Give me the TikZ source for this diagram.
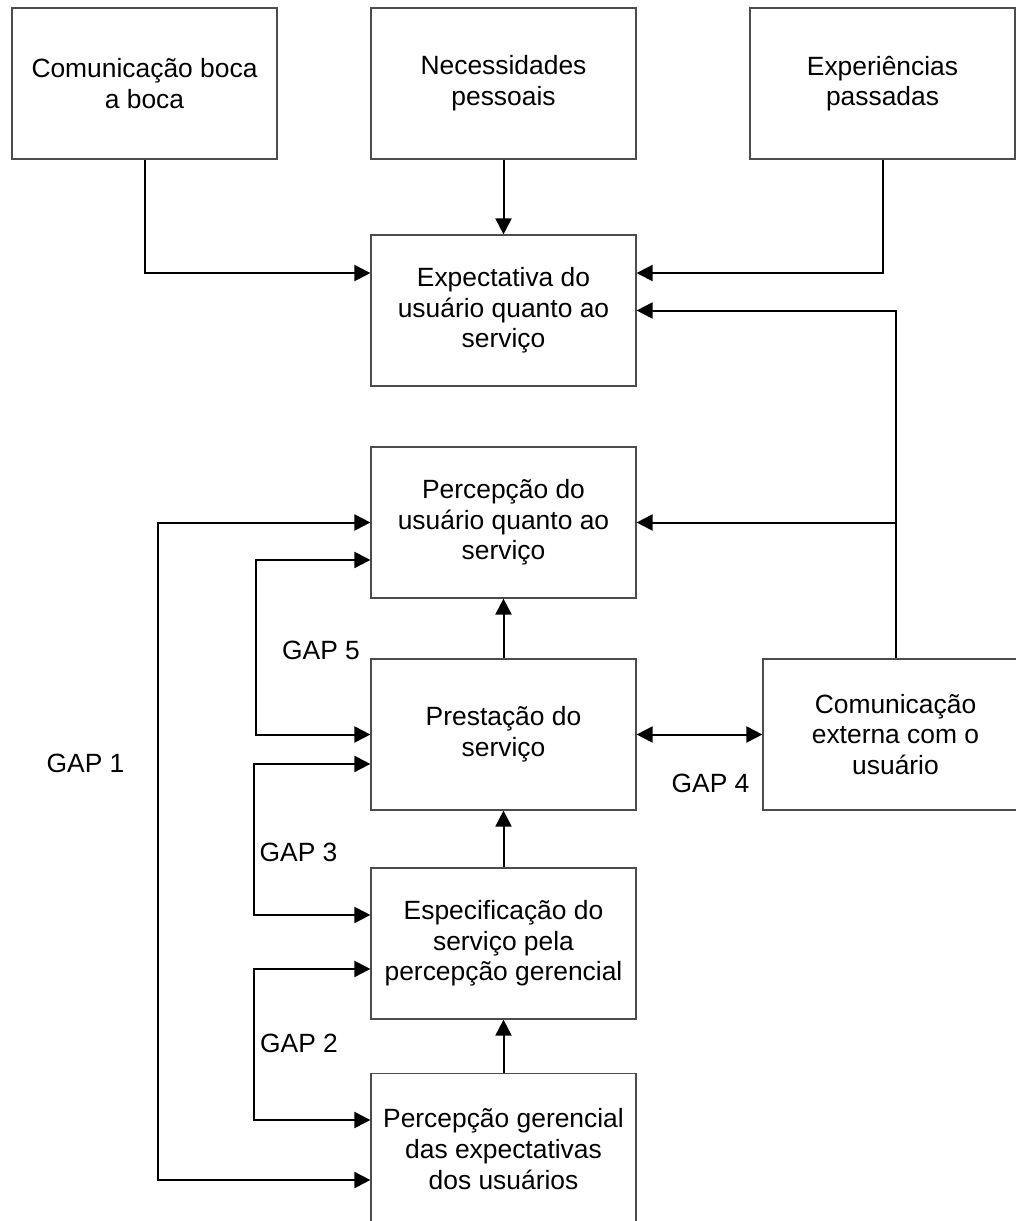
\documentclass[tikz,border=0pt]{standalone}
\usepackage{fontspec}
\setmainfont{Liberation Sans}
\usetikzlibrary{arrows.meta,positioning}

\begin{document}
\begin{tikzpicture}[x=0.75pt, y=-0.75pt, >={Triangle[length=12pt,width=12pt]},
		box/.style={draw=black!70, line width=0.9pt, minimum width=198.75pt, minimum height=113.25pt, align=center, inner sep=0pt, font=\fontsize{19.8}{23}\selectfont},
		conn/.style={line width=1.5pt},
		gaplabel/.style={inner sep=0pt, font=\fontsize{19.8}{23}\selectfont}]
		\clip (0,0) rectangle (1016,1221);
		% boxes
		\node[box] (boca) at (144.5, 83.5) {Comunicação boca\\a boca};
		\node[box] (necess) at (503.5, 83.5) {Necessidades\\pessoais};
		\node[box] (exper) at (882.5, 83.5) {Experiências\\passadas};
		\node[box] (expect) at (503.5, 310.5) {Expectativa do\\usuário quanto ao\\serviço};
		\node[box] (percu) at (503.5, 522.5) {Percepção do\\usuário quanto ao\\serviço};
		\node[box] (prest) at (503.5, 734.5) {Prestação do\\serviço};
		\node[box] (comext) at (895.5, 734.5) {Comunicação\\externa com o\\usuário};
		\node[box] (espec) at (503.5, 943.5) {Especificação do\\serviço pela\\percepção gerencial};
		\node[box] (pgeren) at (503.5, 1149) {Percepção gerencial\\das expectativas\\dos usuários};
		% labels
		\node[gaplabel] (gap1) at (85.5, 763) {GAP 1};
		\node[gaplabel] (gap2) at (299, 1043) {GAP 2};
		\node[gaplabel] (gap3) at (298.5, 852) {GAP 3};
		\node[gaplabel] (gap4) at (710.5, 783) {GAP 4};
		\node[gaplabel] (gap5) at (321, 650) {GAP 5};
		% expectation inputs
		\draw[conn, ->] (boca.south) |- ([yshift=28.1pt]expect.west);
		\draw[conn, ->] (necess) -- (expect);
		\draw[conn, ->] (exper.south) |- ([yshift=28.1pt]expect.east);
		\draw[conn, ->] (comext.north) |- (expect.east);
		\draw[conn, ->] (comext.north |- percu.east) -- (percu.east);
		% service chain
		\draw[conn, ->] (pgeren) -- (espec);
		\draw[conn, ->] (espec) -- (prest);
		\draw[conn, ->] (prest) -- (percu);
		\draw[conn, <->] (prest) -- (comext);
		% gaps
		\draw[conn, <->] ([yshift=-23.25pt]pgeren.west) -- ++(-212.5,0) |- (percu.west);
		\draw[conn, <->] ([yshift=-28.1pt]percu.west) -- ++(-114,0) |- (prest.west);
		\draw[conn, <->] ([yshift=-22.1pt]prest.west) -- ++(-116,0) |- ([yshift=21.4pt]espec.west);
		\draw[conn, <->] ([yshift=-19.1pt]espec.west) -- ++(-116,0) |- ([yshift=21.75pt]pgeren.west);
	\end{tikzpicture}
\end{document}
